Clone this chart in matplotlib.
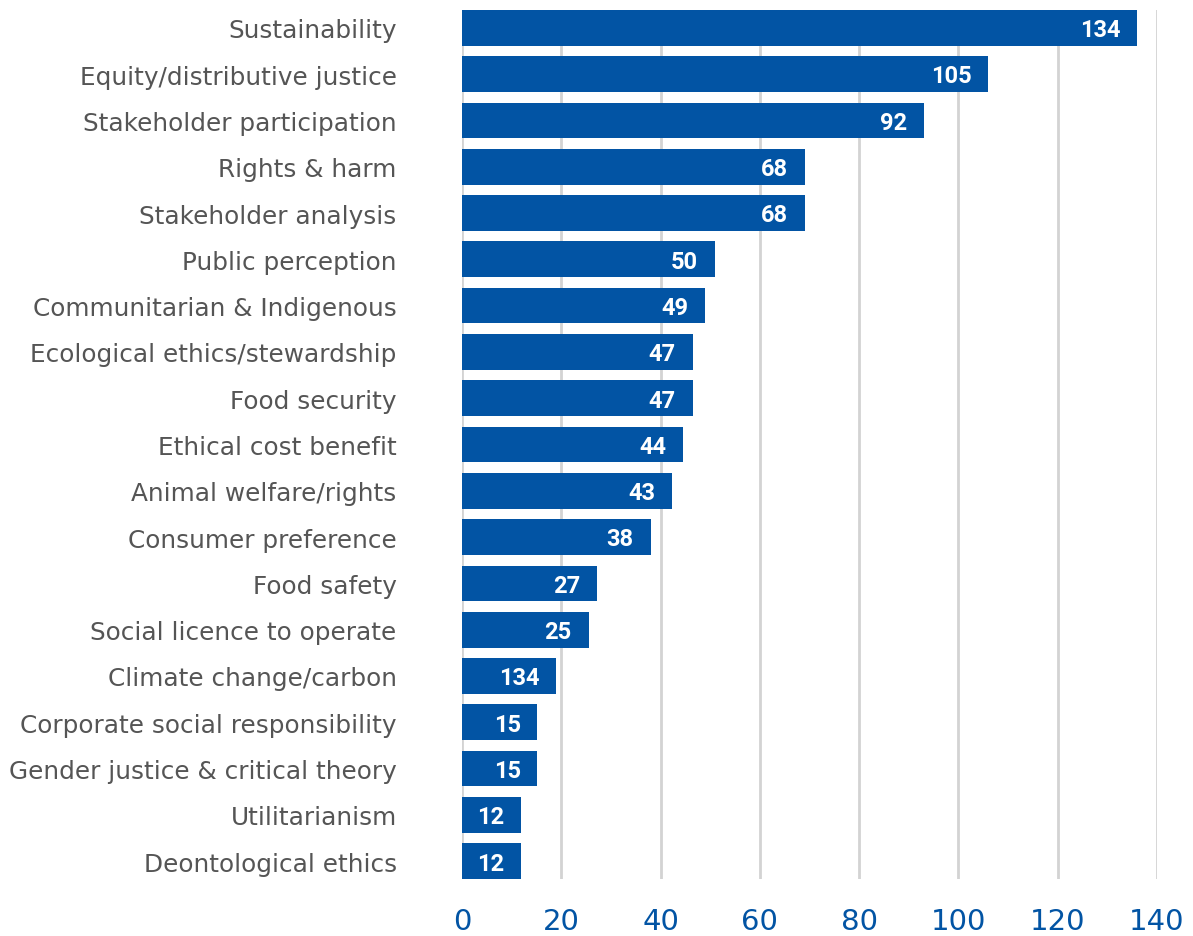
import matplotlib
matplotlib.use("Agg")
import matplotlib.pyplot as plt

categories = [
    "Sustainability", "Equity/distributive justice", "Stakeholder participation",
    "Rights & harm", "Stakeholder analysis", "Public perception",
    "Communitarian & Indigenous", "Ecological ethics/stewardship", "Food security",
    "Ethical cost benefit", "Animal welfare/rights", "Consumer preference",
    "Food safety", "Social licence to operate", "Climate change/carbon",
    "Corporate social responsibility", "Gender justice & critical theory",
    "Utilitarianism", "Deontological ethics",
]
bar_values = [136, 106, 93, 69, 69, 51, 49, 46.5, 46.5, 44.5, 42.3, 38, 27.2, 25.5, 19, 15.2, 15.2, 11.8, 11.8]
value_labels = ["134", "105", "92", "68", "68", "50", "49", "47", "47", "44", "43", "38",
                "27", "25", "134", "15", "15", "12", "12"]
xticks = [0, 20, 40, 60, 80, 100, 120, 140]

BLUE = "#0254A4"

fig = plt.figure(figsize=(11.93, 9.37), dpi=100)
ax = fig.add_axes([462 / 1193, 1 - 880 / 937, 695 / 1193, 869 / 937])

n = len(categories)
ypos = list(range(n))
h = 0.77
ax.barh(ypos, bar_values, height=h, color=BLUE, zorder=3)
ax.set_ylim(n - 1 + h / 2, -h / 2)
ax.set_xlim(0, 140)

for y, v, lab in zip(ypos, bar_values, value_labels):
    ax.text(v - 3.4, y + 0.04, lab, ha="right", va="center", color="white",
            fontsize=17, fontweight="bold", family="Roboto", zorder=4)

ax.set_xticks(xticks)
ax.set_xticklabels([str(t) for t in xticks], color=BLUE, fontsize=21, family="DejaVu Sans")
ax.set_yticks(ypos)
ax.set_yticklabels(categories, color="#555555", fontsize=17.8, family="DejaVu Sans")
ax.tick_params(axis="x", length=0, pad=20)
ax.tick_params(axis="y", length=0, pad=47)
for s in ax.spines.values():
    s.set_visible(False)
ax.grid(axis="x", color="#d3d3d3", linewidth=2, zorder=0)
ax.grid(axis="y", visible=False)

fig.savefig("out.png", dpi=100)
